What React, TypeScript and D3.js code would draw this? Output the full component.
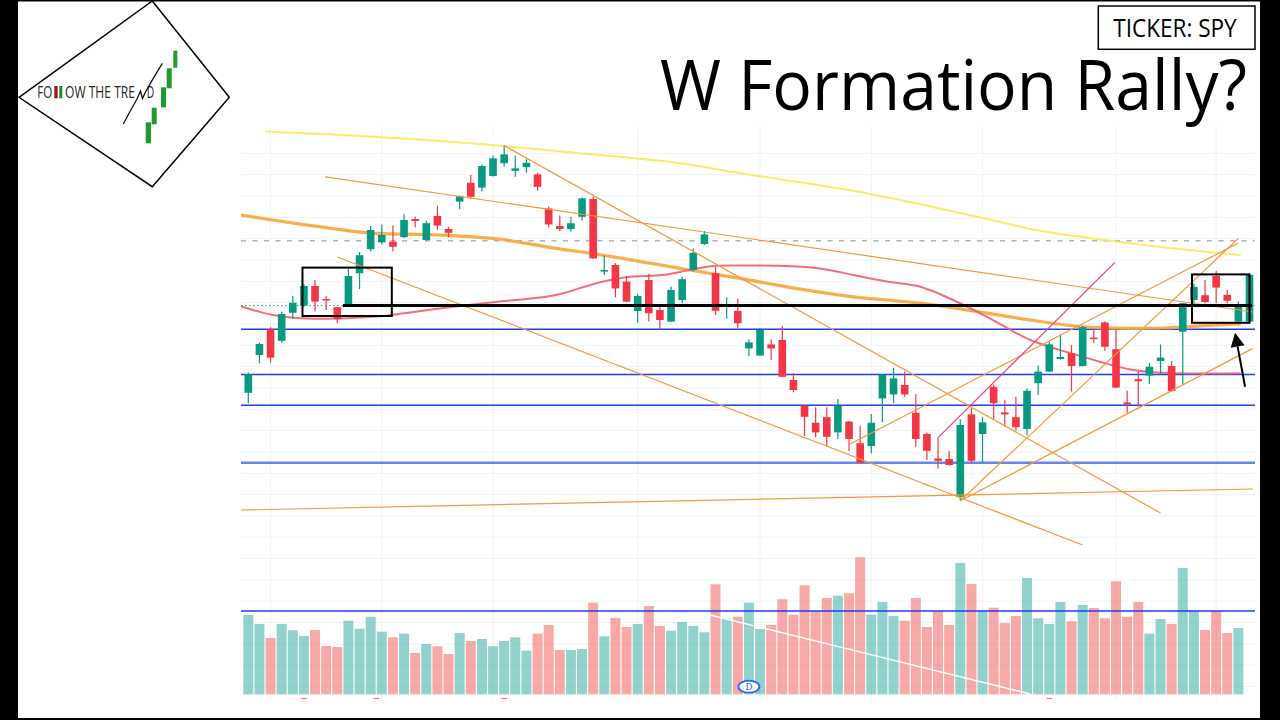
import React from 'react';
import * as d3 from 'd3';

// ---- Daily SPY candles (index 0..90) ----
const opens = [414.3,423.75,430.2,427.3,434.3,436.1,441.0,437.75,435.7,436.2,444.2,450.2,451.9,452.1,453.2,457.75,452.5,458.5,455.25,462.1,466.8,465.6,468.5,471.7,469.8,470.7,468.9,460.4,456.0,455.2,458.3,462.75,444.6,446.25,442.1,434.75,442.5,435.0,432.1,437.5,445.0,451.5,444.2,436.0,434.75,425.4,423.6,426.4,427.5,417.5,411.1,406.8,408.2,404.4,407.1,401.7,401.0,412.9,413.9,416.25,409.3,404.0,397.9,397.75,388.3,408.9,404.0,415.8,409.4,408.2,405.25,416.7,419.6,422.75,424.2,421.0,428.1,431.9,425.2,411.9,417.7,418.6,422.25,421.0,429.6,437.5,438.7,443.5,438.8,432.1,432.1];
const highs = [419.4,426.8,430.7,434.6,438.5,441.5,442.5,438.5,435.8,445.4,449.5,456.0,456.4,456.2,459.0,458.3,457.3,461.1,455.8,463.6,468.75,471.4,473.6,476.1,473.6,472.7,469.3,460.8,458.6,458.3,463.1,463.3,448.6,446.7,443.5,439.0,444.0,436.25,440.8,443.3,450.4,454.75,445.8,438.2,437.9,427.7,430.5,427.7,431.0,419.2,411.2,410.7,410.7,412.75,407.25,406.1,409.0,419.0,420.6,419.6,414.0,404.4,403.1,399.75,407.7,410.6,408.2,416.4,412.5,413.3,415.4,421.1,427.0,428.9,426.25,431.0,430.4,432.1,430.2,414.8,419.6,421.7,426.4,422.25,436.75,441.7,442.5,444.75,440.0,437.1,443.75];
const lows = [411.7,421.7,421.8,426.8,432.75,435.75,434.6,435.0,431.7,436.0,440.25,449.6,451.4,449.6,453.0,455.6,452.3,455.0,453.2,460.2,462.75,464.6,468.4,470.8,468.3,469.3,464.8,455.6,454.75,454.6,457.3,447.8,443.75,438.2,437.0,431.8,432.1,430.0,432.0,436.7,444.6,451.25,433.75,432.9,430.4,423.5,423.5,422.5,418.2,414.4,403.5,403.2,400.8,402.75,399.75,396.7,399.2,406.9,411.7,413.3,400.8,397.5,395.4,396.1,387.3,396.8,396.8,407.75,405.8,404.8,403.6,413.75,419.5,422.6,414.6,420.9,426.8,424.75,415.5,409.3,410.8,416.5,418.75,414.6,416.25,436.7,436.7,436.7,436.7,432.0,432.0];
const closes = [418.9,426.5,423.1,434.0,436.8,441.0,437.1,437.4,432.7,443.5,448.7,455.0,453.75,450.8,457.5,457.25,456.7,456.1,454.3,463.5,463.3,471.0,472.9,473.9,470.4,471.8,465.8,456.4,455.25,456.7,462.9,447.9,445.0,440.4,437.1,438.5,434.2,432.5,440.0,442.7,449.3,453.9,434.8,436.5,431.7,426.9,430.0,425.4,418.3,415.0,408.3,404.4,403.3,411.1,402.75,396.8,406.8,418.9,417.9,413.9,402.75,399.8,397.3,396.25,406.25,397.3,406.9,411.7,408.9,405.7,414.8,419.6,426.4,423.25,421.0,430.7,427.7,425.8,415.6,411.4,417.2,420.8,423.1,414.75,436.7,440.8,437.0,440.6,437.3,435.8,443.75];
// volume in millions (candles 0..89)
const volumes = [79.3,70.3,56.3,70.3,64,58.3,64.3,48.3,47.3,73.6,65.6,77.6,62.6,57,60.6,41.3,50.3,48,40.3,61.3,53.3,55.3,48,53.3,57,43.6,60.6,69.3,44.3,44.3,45.3,91.6,58,76.3,67.3,70.3,88.3,68.3,63.6,72.3,68.3,62,110,75.6,77.6,91.6,65.3,69.3,95,79.6,109,83.3,96.3,98.6,101,137,79.6,92.3,78.3,73.6,96.3,67.3,83.3,69.3,131.3,110.3,83.3,86.6,71.3,78.3,116.3,76,70.3,92.3,73,89.3,86.3,76,113,77.6,92.3,60.6,75.3,70.3,126.3,83.3,64.3,83.3,61.3,66.3];

// ---- Moving averages: [candle index, price] knots ----
const ma200: [number, number][] = [[1.5,479.6],[11.2,478.3],[20.8,476.5],[29.8,474.2],[38.8,471.7],[44.2,469.2],[55,464.5],[66.8,457.5],[70.8,455.0],[79.2,451.7],[85.3,449.8],[89.2,448.75]];
const ma50: [number, number][] = [[-0.75,458.75],[2.2,457.5],[6.7,455.7],[10.7,454.3],[17.2,453.75],[22.6,452.7],[26.8,450.8],[32.8,448.3],[38.8,445.4],[44.2,442.9],[48.4,440.8],[54.4,438.3],[60.4,436.7],[66.4,434.2],[70.3,432.5],[75.0,430.8],[79.2,430.4],[82.2,430.5],[86.7,431.2],[89.2,431.5]];
const ma20: [number, number][] = [[-0.75,436.0],[2.2,433.75],[5.25,432.9],[11.2,433.3],[17.2,435.4],[22.6,437.1],[26.8,438.3],[28.3,439.2],[31.3,441.7],[34.3,443.3],[37.3,443.75],[40.3,445.4],[41.8,446.0],[44.2,446.1],[48.4,446.0],[51.4,445.4],[54.4,443.75],[57.4,442.1],[60.4,440.8],[63.35,437.5],[66.4,433.3],[70.3,427.5],[74.8,423.5],[79.2,420.2],[82.2,419.3],[89.2,419.2]];

// ---- Drawn trend lines: [[i0,p0],[i1,p1]] ----
const orangeLines: [number, number][][] = [
  [[6.9,468.3],[90.3,434.5]],
  [[23,476.1],[82,384.25]],
  [[8,448.25],[75,376.25]],
  [[-0.66,385.0],[90.3,390.25]],
  [[64,387.3],[90.3,425.4]],
  [[64,387.3],[89,452.9]],
  [[54.1,401.5],[89,451.75]],
];
const pinkLine: [number, number][] = [[62,403.1],[77.9,446.9]];
const volTrend: [number, number][] = [[41.5,79.3],[70.3,0.3]];

// ---- Horizontal levels ----
const blueLevels = [430.2, 418.9, 411.2];
const blueThickLevel = 396.8;
const dashedLevel = 452.3;
const blackLevel = 436.1;
const blackLevelStart = 8.5;
const volumeLevel = 83.3;
const gridIdx = [2, 12, 22, 35, 46, 56, 66, 78, 87];

// ---- Boxes / annotations ----
const boxes = [
  { i0: 4.87, i1: 12.9, pTop: 445.6, pBot: 433.5 },
  { i0: 84.83, i1: 90.0, pTop: 443.9, pBot: 431.8 },
];
const arrowFrom: [number, number] = [89.6, 415.8];
const arrowTo: [number, number] = [88.7, 429.3];
const dividendIdx = 45;
const eventIdx = [5, 11.5, 23, 72];

const GREEN = '#089981';
const RED = '#f23645';

export default function App() {
  const pane = { left: 241, right: 1255, top: 127, bottom: 700 };
  const x = d3.scaleLinear().domain([0, 89]).range([248.3, 1238.4]);
  const y = d3.scaleLinear().domain([480, 380]).range([130, 530]);
  const v = d3.scaleLinear().domain([0, 100]).range([694.3, 594.3]);
  const bodyW = 7.6;
  const volW = 10;

  const maLine = d3
    .line<[number, number]>()
    .x((d) => x(d[0]))
    .y((d) => y(d[1]))
    .curve(d3.curveCatmullRom.alpha(0.5));

  const gridPrices = d3.range(474.17, 336, -5.333);

  const ax = x(arrowFrom[0]), ay = y(arrowFrom[1]);
  const bx = x(arrowTo[0]), by = y(arrowTo[1]);
  const ang = Math.atan2(by - ay, bx - ax);
  const hl = 14, hw = 7;
  const baseX = bx - hl * Math.cos(ang), baseY = by - hl * Math.sin(ang);
  const head = `M${bx},${by} L${baseX + hw * Math.sin(ang)},${baseY - hw * Math.cos(ang)} L${baseX - hw * Math.sin(ang)},${baseY + hw * Math.cos(ang)} Z`;

  return (
    <svg
      width={1280}
      height={720}
      style={{ position: 'absolute', left: 0, top: 0, background: '#fff' }}
      fontFamily="'Open Sans', sans-serif"
    >
      <defs>
        <clipPath id="pane">
          <rect x={pane.left} y={pane.top} width={pane.right - pane.left} height={pane.bottom - pane.top} />
        </clipPath>
      </defs>
      <rect x={0} y={0} width={1280} height={720} fill="#fff" />

      {/* ---------- Logo ---------- */}
      <g>
        <path d="M19,97.3 L152.3,1 L229.3,97.3 L152.3,186.7 Z" fill="none" stroke="#000" strokeWidth={1.5} />
        <text x={37.3} y={98.3} fontSize={17} fontWeight={400} fill="#262626" textLength={15} lengthAdjust="spacingAndGlyphs">FO</text>
        <rect x={54.3} y={86} width={3.4} height={12.3} fill="#9b1c1c" />
        <rect x={59.3} y={86} width={3} height={12.3} fill="#1f8a2e" />
        <text x={65} y={98.3} fontSize={17} fontWeight={400} fill="#262626" textLength={70} lengthAdjust="spacingAndGlyphs">OW THE TRE</text>
        <text x={146.7} y={98.3} fontSize={17} fontWeight={400} fill="#262626" textLength={7.5} lengthAdjust="spacingAndGlyphs">D</text>
        <path d="M123.3,124 C128,115 133,106 137,99 L140.5,91 L142.5,98.5 L146,91 C151,82 157,72 162.3,63.3" fill="none" stroke="#111" strokeWidth={1.3} />
        <rect x={145.7} y={122.3} width={5.3} height={21} fill="#1f9a30" />
        <rect x={151.7} y={107.7} width={5} height={16.6} fill="#1f9a30" />
        <rect x={161} y={87.3} width={5} height={20} fill="#1f9a30" />
        <rect x={166.7} y={68.3} width={5} height={20} fill="#1f9a30" />
        <rect x={173.3} y={50.7} width={4} height={17} fill="#1f9a30" />
      </g>

      {/* ---------- Title ---------- */}
      <rect x={1098.3} y={6} width={156.7} height={43.3} fill="none" stroke="#000" strokeWidth={1.5} />
      <text x={1113.3} y={37.3} fontSize={26} fill="#000" textLength={123.4} lengthAdjust="spacingAndGlyphs">TICKER: SPY</text>
      <text x={660} y={110} fontSize={70} fill="#000" textLength={587} lengthAdjust="spacingAndGlyphs">W Formation Rally?</text>

      {/* ---------- Chart pane ---------- */}
      <g clipPath="url(#pane)">
        {gridPrices.map((p, k) => (
          <line key={'hg' + k} x1={pane.left} x2={pane.right} y1={y(p)} y2={y(p)} stroke="#f1f2f4" strokeWidth={1} />
        ))}
        {gridIdx.map((g, k) => (
          <line key={'vg' + k} x1={x(g)} x2={x(g)} y1={pane.top} y2={pane.bottom} stroke="#f1f2f4" strokeWidth={1} />
        ))}

        {/* volume */}
        {volumes.map((vol, i) => (
          <rect
            key={'v' + i}
            x={x(i) - volW / 2}
            y={v(vol)}
            width={volW}
            height={v(0) - v(vol)}
            fill={closes[i] >= opens[i] ? 'rgba(38,166,154,0.5)' : 'rgba(239,83,80,0.5)'}
          />
        ))}
        <line x1={x(volTrend[0][0])} y1={v(volTrend[0][1])} x2={x(volTrend[1][0])} y2={v(volTrend[1][1])} stroke="#ffffff" strokeWidth={1.4} />
        <line x1={pane.left} x2={pane.right} y1={v(volumeLevel)} y2={v(volumeLevel)} stroke="#1f3df5" strokeWidth={1.5} />

        {/* dividend marker */}
        <ellipse cx={x(dividendIdx)} cy={686.7} rx={10.5} ry={6} fill="#fff" stroke="#2962ff" strokeWidth={1.8} />
        <text x={x(dividendIdx)} y={690} fontSize={9} textAnchor="middle" fill="#2962ff" fontFamily="'DejaVu Serif', serif">D</text>

        {/* levels */}
        <line x1={pane.left} x2={pane.right} y1={y(dashedLevel)} y2={y(dashedLevel)} stroke="#aeb1b8" strokeWidth={1.5} strokeDasharray="5 6.5" />
        {blueLevels.map((p, k) => (
          <line key={'bl' + k} x1={pane.left} x2={pane.right} y1={y(p)} y2={y(p)} stroke="#1f3df5" strokeWidth={1.5} />
        ))}
        <line x1={pane.left} x2={pane.right} y1={y(blueThickLevel)} y2={y(blueThickLevel)} stroke="#6585f2" strokeWidth={2.4} />

        {/* moving averages */}
        <path d={maLine(ma200) || ''} fill="none" stroke="#fbe64e" strokeWidth={2} strokeOpacity={0.85} />
        <path d={maLine(ma50) || ''} fill="none" stroke="#f7a637" strokeWidth={3.2} strokeOpacity={0.9} />
        <path d={maLine(ma20) || ''} fill="none" stroke="#ef5f6c" strokeWidth={2} strokeOpacity={0.9} />

        {/* candles */}
        {opens.map((o, i) => {
          const c = closes[i];
          const up = c >= o;
          const col = up ? GREEN : RED;
          const top = y(Math.max(o, c));
          const bot = y(Math.min(o, c));
          return (
            <g key={'c' + i}>
              <line x1={x(i)} x2={x(i)} y1={y(highs[i])} y2={y(lows[i])} stroke={col} strokeWidth={1.2} />
              <rect x={x(i) - bodyW / 2} y={top} width={bodyW} height={Math.max(1.5, bot - top)} fill={col} />
            </g>
          );
        })}

        {/* drawings */}
        {orangeLines.map((l, k) => (
          <line key={'ol' + k} x1={x(l[0][0])} y1={y(l[0][1])} x2={x(l[1][0])} y2={y(l[1][1])} stroke="#f5973a" strokeWidth={1.2} />
        ))}
        <line x1={x(pinkLine[0][0])} y1={y(pinkLine[0][1])} x2={x(pinkLine[1][0])} y2={y(pinkLine[1][1])} stroke="#f0407f" strokeWidth={1.2} />

        <line x1={pane.left} x2={pane.right} y1={y(blackLevel)} y2={y(blackLevel)} stroke="#26a69a" strokeWidth={1} strokeDasharray="1.5 2.5" />
        <line x1={x(blackLevelStart)} x2={pane.right - 3} y1={y(blackLevel)} y2={y(blackLevel)} stroke="#000" strokeWidth={3} />

        {boxes.map((b, k) => (
          <rect key={'bx' + k} x={x(b.i0)} y={y(b.pTop)} width={x(b.i1) - x(b.i0)} height={y(b.pBot) - y(b.pTop)} fill="none" stroke="#000" strokeWidth={2} />
        ))}
        <line x1={ax} y1={ay} x2={baseX} y2={baseY} stroke="#000" strokeWidth={2} />
        <path d={head} fill="#000" />
      </g>

      {eventIdx.map((e, k) => (
        <line key={'ev' + k} x1={x(e) - 3} x2={x(e) + 3} y1={698.5} y2={698.5} stroke="#f27b8a" strokeWidth={1.2} />
      ))}

      {/* ---------- Frame ---------- */}
      <rect x={0} y={0} width={18} height={720} fill="#000" />
      <rect x={1260} y={0} width={20} height={720} fill="#000" />
      <rect x={0} y={0} width={1280} height={1.5} fill="#000" />
      <rect x={0} y={718} width={1280} height={2} fill="#000" />
    </svg>
  );
}
